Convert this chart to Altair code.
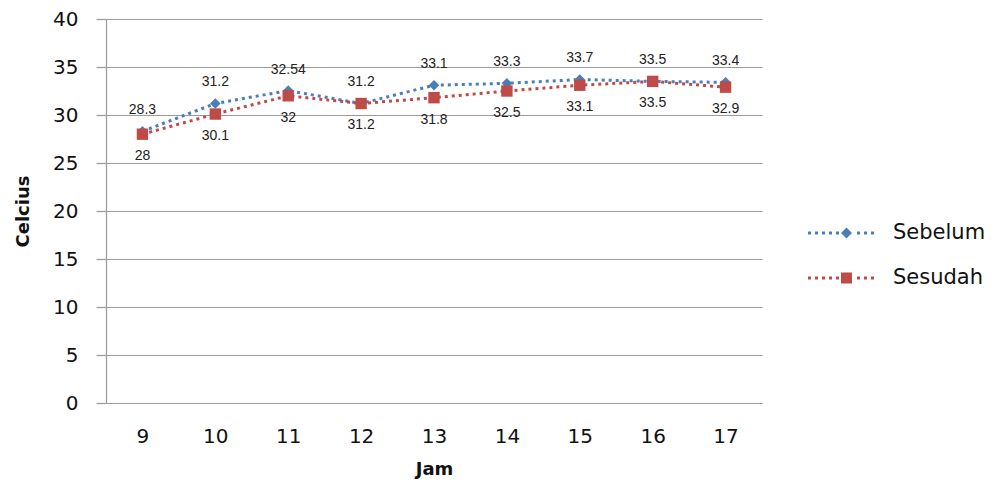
import altair as alt
import pandas as pd

# Hourly temperature readings (Celcius) before and after
hours = [9, 10, 11, 12, 13, 14, 15, 16, 17]
sebelum = [28.3, 31.2, 32.54, 31.2, 33.1, 33.3, 33.7, 33.5, 33.4]
sesudah = [28, 30.1, 32, 31.2, 31.8, 32.5, 33.1, 33.5, 32.9]
series_names = ["Sebelum", "Sesudah"]
series_colors = ["#4A7EBB", "#BE4B48"]

rows = []
for h, a, b in zip(hours, sebelum, sesudah):
    rows.append({"jam": h, "seri": "Sebelum", "suhu": a})
    rows.append({"jam": h, "seri": "Sesudah", "suhu": b})
df = pd.DataFrame(rows)

SYM = 67.0          # legend symbol width in px
PX = 2.0 / SYM      # one pixel in symbol units


def legend_symbol(marker):
    """Dotted line sample with a marker slightly right of centre, in [-1, 1] units."""
    parts = []
    cx = 5 * PX
    x = -1.0
    dot, gap, half_t = 3 * PX, 4 * PX, 1.5 * PX
    while x + dot <= 1.0 + 1e-9:
        if x + dot < cx - 0.2 or x > cx + 0.2:
            parts.append(f"M{x:.4f},{-half_t:.4f}h{dot:.4f}v{2*half_t:.4f}h{-dot:.4f}Z")
        x += dot + gap
    r = 5.5 * PX
    if marker == "diamond":
        parts.append(f"M{cx:.4f},{-r:.4f}L{cx + r:.4f},0L{cx:.4f},{r:.4f}L{cx - r:.4f},0Z")
    else:
        parts.append(f"M{cx - r:.4f},{-r:.4f}h{2*r:.4f}v{2*r:.4f}h{-2*r:.4f}Z")
    return "".join(parts)


legend_shapes = [legend_symbol("diamond"), legend_symbol("square")]

legend = alt.Legend(
    title=None,
    orient="none",
    legendX=702,
    legendY=204,
    symbolSize=SYM * SYM,
    symbolStrokeWidth=0,
    symbolOpacity=1,
    clipHeight=20,
    rowPadding=24,
    labelOffset=18,
    labelFont="DejaVu Sans",
    labelFontSize=21,
    labelColor="#111111",
)

color_scale = alt.Scale(domain=series_names, range=series_colors)

x_enc = alt.X(
    "jam:O",
    scale=alt.Scale(type="point", padding=0.5),
    axis=alt.Axis(
        title="Jam",
        labelAngle=0,
        ticks=False,
        tickSize=0,
        grid=False,
        domainColor="#9A9A9A",
        domainWidth=1.2,
        labelFont="DejaVu Sans",
        labelFontSize=20,
        labelColor="#111111",
        labelPadding=23,
        titleFont="DejaVu Sans",
        titleFontSize=18,
        titleFontWeight="bold",
        titleColor="#111111",
        titlePadding=14,
    ),
)

y_enc = alt.Y(
    "suhu:Q",
    scale=alt.Scale(domain=[0, 40], nice=False, zero=True),
    axis=alt.Axis(
        title="Celcius",
        values=[0, 5, 10, 15, 20, 25, 30, 35, 40],
        tickSize=10,
        tickColor="#9A9A9A",
        tickWidth=1.2,
        domainColor="#9A9A9A",
        domainWidth=1.2,
        gridColor="#9A9A9A",
        gridWidth=1.2,
        labelFont="DejaVu Sans",
        labelFontSize=20,
        labelColor="#111111",
        labelPadding=18,
        titleFont="DejaVu Sans",
        titleFontSize=18,
        titleFontWeight="bold",
        titleColor="#111111",
        titlePadding=20,
    ),
)

base = alt.Chart(df)

lines = base.mark_line(strokeWidth=3, strokeDash=[3, 4], strokeCap="butt").encode(
    x=x_enc,
    y=y_enc,
    color=alt.Color("seri:N", scale=color_scale, legend=None),
    detail="seri:N",
)

points = base.mark_point(filled=True, opacity=1).encode(
    x=x_enc,
    y=y_enc,
    color=alt.Color("seri:N", scale=color_scale, legend=None),
    shape=alt.Shape("seri:N", scale=alt.Scale(domain=series_names, range=["diamond", "square"]), legend=None),
    size=alt.Size("seri:N", scale=alt.Scale(domain=series_names, range=[110, 130]), legend=None),
)

# legend-only layer: no rows, its shape scale holds the line-with-marker symbols
legend_layer = base.transform_filter("false").mark_point(filled=True, opacity=1).encode(
    x=x_enc,
    y=y_enc,
    color=alt.Color("seri:N", scale=color_scale, legend=legend),
    shape=alt.Shape("seri:N", scale=alt.Scale(domain=series_names, range=legend_shapes), legend=legend),
)

label_style = dict(font="Liberation Sans", fontSize=14, color="#222222", baseline="middle", align="center")

labels_a = base.transform_filter(alt.datum.seri == "Sebelum").mark_text(dy=-21, **label_style).encode(
    x=x_enc, y=y_enc, text=alt.Text("suhu:Q")
)
labels_b = base.transform_filter(alt.datum.seri == "Sesudah").mark_text(dy=22, **label_style).encode(
    x=x_enc, y=y_enc, text=alt.Text("suhu:Q")
)

chart = (
    alt.layer(lines, points, labels_a, labels_b, legend_layer)
    .resolve_scale(shape="independent", color="independent")
    .properties(
        width=656,
        height=384,
        autosize=alt.AutoSizeParams(type="none"),
        padding={"left": 106, "top": 19, "right": 238, "bottom": 81},
        background="white",
    )
    .configure_view(stroke=None)
)

chart.save("out.html", embed_options={"renderer": "svg", "actions": False})
